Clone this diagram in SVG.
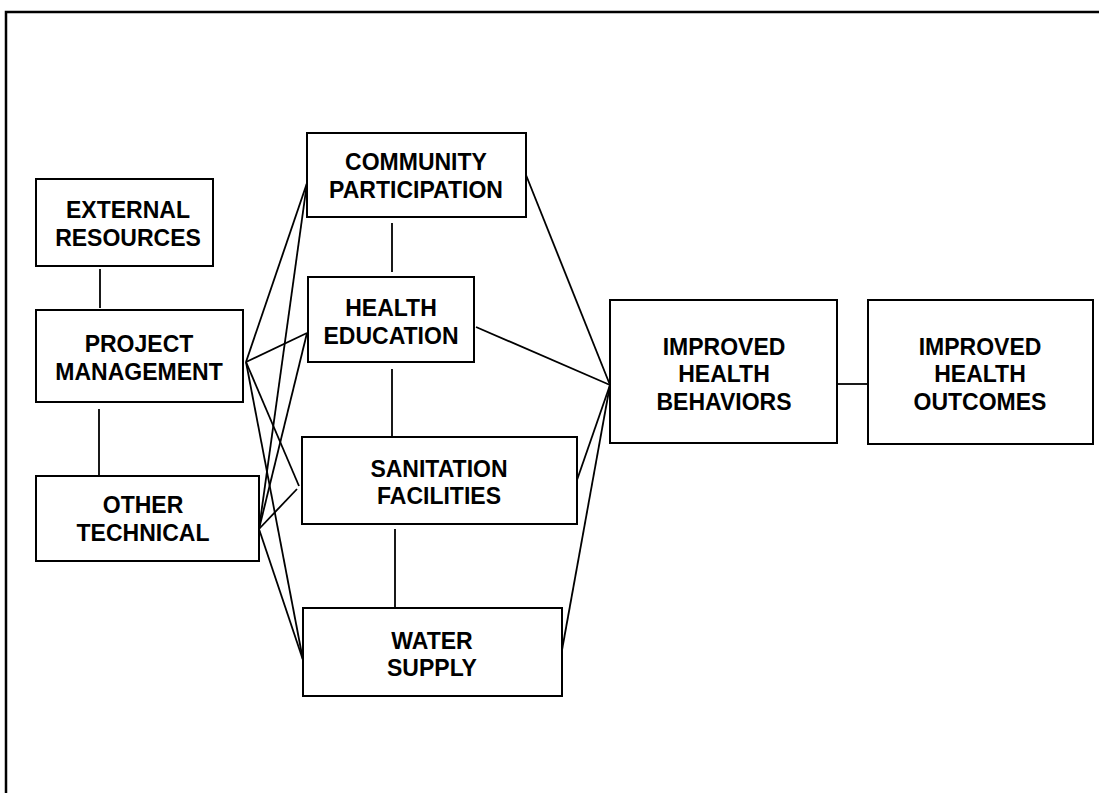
<svg xmlns="http://www.w3.org/2000/svg" width="1099" height="793" viewBox="0 0 1099 793">
<style>
.box{fill:#fff;stroke:#000;stroke-width:2}
.lbl{font-family:"Liberation Sans",Arial,sans-serif;font-weight:bold;font-size:23px;fill:#000;text-anchor:middle}
.con line{stroke:#000;stroke-width:1.8;fill:none}
.frame{stroke:#000;stroke-width:2.5;fill:none}
</style>
<rect width="1099" height="793" fill="#fff"/>
<path class="frame" d="M6,793 V12 H1099"/>
<g id="connectors" class="con">
<line x1="100" y1="269" x2="100" y2="308"/>
<line x1="99" y1="409" x2="99" y2="476"/>
<line x1="392" y1="223" x2="392" y2="272"/>
<line x1="392" y1="369" x2="392" y2="437"/>
<line x1="395" y1="529" x2="395" y2="608"/>
<line x1="837" y1="384" x2="868" y2="384"/>
<line x1="246" y1="362" x2="307" y2="183"/>
<line x1="246" y1="362" x2="307" y2="333"/>
<line x1="246" y1="362" x2="299" y2="486"/>
<line x1="246" y1="362" x2="303" y2="660"/>
<line x1="259" y1="529" x2="307" y2="183"/>
<line x1="259" y1="529" x2="307" y2="333"/>
<line x1="259" y1="529" x2="297" y2="489"/>
<line x1="259" y1="529" x2="303" y2="660"/>
<line x1="610" y1="385" x2="526" y2="175"/>
<line x1="610" y1="385" x2="476" y2="327"/>
<line x1="610" y1="385" x2="577" y2="480"/>
<line x1="610" y1="385" x2="562" y2="650"/>
</g>
<g id="external-resources">
<rect class="box" x="36" y="179" width="177" height="87"/>
<text class="lbl" x="128" y="218">EXTERNAL</text>
<text class="lbl" x="128" y="246">RESOURCES</text>
</g>
<g id="project-management">
<rect class="box" x="36" y="310" width="207" height="92"/>
<text class="lbl" x="139" y="352">PROJECT</text>
<text class="lbl" x="139" y="380">MANAGEMENT</text>
</g>
<g id="other-technical">
<rect class="box" x="36" y="476" width="223" height="85"/>
<text class="lbl" x="143" y="513">OTHER</text>
<text class="lbl" x="143" y="541">TECHNICAL</text>
</g>
<g id="community-participation">
<rect class="box" x="307" y="133" width="219" height="84"/>
<text class="lbl" x="416" y="170">COMMUNITY</text>
<text class="lbl" x="416" y="198">PARTICIPATION</text>
</g>
<g id="health-education">
<rect class="box" x="308" y="277" width="166" height="85"/>
<text class="lbl" x="391" y="316">HEALTH</text>
<text class="lbl" x="391" y="344">EDUCATION</text>
</g>
<g id="sanitation-facilities">
<rect class="box" x="302" y="437" width="275" height="87"/>
<text class="lbl" x="439" y="477">SANITATION</text>
<text class="lbl" x="439" y="504">FACILITIES</text>
</g>
<g id="water-supply">
<rect class="box" x="303" y="608" width="259" height="88"/>
<text class="lbl" x="432" y="649">WATER</text>
<text class="lbl" x="432" y="676">SUPPLY</text>
</g>
<g id="improved-health-behaviors">
<rect class="box" x="610" y="300" width="227" height="143"/>
<text class="lbl" x="724" y="355">IMPROVED</text>
<text class="lbl" x="724" y="382">HEALTH</text>
<text class="lbl" x="724" y="410">BEHAVIORS</text>
</g>
<g id="improved-health-outcomes">
<rect class="box" x="868" y="300" width="225" height="144"/>
<text class="lbl" x="980" y="355">IMPROVED</text>
<text class="lbl" x="980" y="382">HEALTH</text>
<text class="lbl" x="980" y="410">OUTCOMES</text>
</g>
</svg>
